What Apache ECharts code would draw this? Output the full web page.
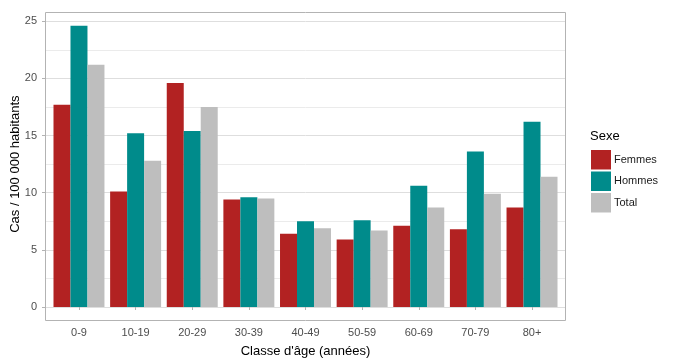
<!DOCTYPE html>
<html><head><meta charset="utf-8">
<script src="https://cdn.jsdelivr.net/npm/echarts@6/dist/echarts.min.js"></script>
<style>html,body{margin:0;padding:0;background:#fff}#c{width:673px;height:364px}</style>
</head><body><div id="c"></div>
<script>
const categories = ['0-9','10-19','20-29','30-39','40-49','50-59','60-69','70-79','80+'];
const femmes = [17.7, 10.1, 19.6, 9.4, 6.4, 5.9, 7.1, 6.8, 8.7];
const hommes = [24.6, 15.2, 15.4, 9.6, 7.5, 7.6, 10.6, 13.6, 16.2];
const total  = [21.2, 12.8, 17.5, 9.5, 6.9, 6.7, 8.7, 9.9, 11.4];
const seriesNames = ['Femmes','Hommes','Total'];
const colors = ['#B22222','#008B8B','#BEBEBE'];
const yTicks = [0,5,10,15,20,25];

const FONT = 'Liberation Sans, Arial, sans-serif';
const panelL = 45, panelR = 566, panelT = 12, panelB = 321;
const y0 = 307, y25 = 21.3;
const catW = (panelR - panelL) / 9.2;

const chart = echarts.init(document.getElementById('c'), null, {renderer:'canvas'});
chart.setOption({
  backgroundColor: '#fff',
  animation: false,
  textStyle: {fontFamily: FONT},
  title: {text: 'Sexe', left: 585, top: 125, textStyle: {fontFamily: FONT, fontSize: 13, fontWeight: 'normal', color: '#000'}},
  legend: {
    orient: 'vertical', left: 586, top: 145, itemWidth: 20, itemHeight: 19.5, itemGap: 2,
    icon: 'rect', data: seriesNames,
    textStyle: {fontFamily: FONT, fontSize: 11, color: '#1a1a1a', padding: [0,0,0,-2]}
  },
  grid: [
    {left: panelL, right: 673 - panelR, top: y25, bottom: 364 - y0, containLabel: false, outerBoundsMode: 'none'},
    {left: panelL + 0.1*catW, right: 673 - (panelR - 0.1*catW), top: y25, bottom: 364 - y0, containLabel: false, outerBoundsMode: 'none'}
  ],
  xAxis: [
    {type: 'category', gridIndex: 0, data: categories, show: false},
    {type: 'category', gridIndex: 1, data: categories, position: 'bottom', offset: 14,
     axisLine: {show: false},
     axisTick: {show: true, alignWithLabel: true, length: 3, lineStyle: {color: '#b3b3b3'}},
     axisLabel: {fontFamily: FONT, fontSize: 11, color: '#4d4d4d', margin: 6},
     name: "Classe d'âge (années)", nameLocation: 'middle', nameGap: 24, nameMoveOverlap: false,
     nameTextStyle: {fontFamily: FONT, fontSize: 13, color: '#000'}}
  ],
  yAxis: [
    {type: 'value', gridIndex: 0, min: 0, max: 25, interval: 5, position: 'left', offset: 0,
     axisLine: {show: true, onZero: false, lineStyle: {color: 'rgba(0,0,0,0)'}},
     axisTick: {show: true, length: 3, inside: false, lineStyle: {color: '#b3b3b3'}},
     axisLabel: {show: true, fontFamily: FONT, fontSize: 11, color: '#4d4d4d', margin: 8, align: 'right'},
     splitLine: {show: true, lineStyle: {color: '#dedede', width: 1}},
     minorTick: {show: false, splitNumber: 2},
     minorSplitLine: {show: true, lineStyle: {color: '#ebebeb', width: 1}},
     name: 'Cas / 100 000 habitants', nameLocation: 'middle', nameGap: 23, nameRotate: 90, nameMoveOverlap: false,
     nameTextStyle: {fontFamily: FONT, fontSize: 13, color: '#000'}},
    {type: 'value', gridIndex: 1, min: 0, max: 25, interval: 5, show: false, splitLine: {show: false}}
  ],
  series: [femmes, hommes, total].map((d, i) => ({
    type: 'bar', name: seriesNames[i], xAxisIndex: 1, yAxisIndex: 1, data: d,
    itemStyle: {color: colors[i]}, barGap: '0%', barCategoryGap: '10%'
  })),
  graphic: [
    {type: 'rect', shape: {x: panelL + 0.5, y: panelT + 0.5, width: panelR - panelL - 1, height: panelB - panelT - 1},
     style: {fill: 'none', stroke: '#b3b3b3', lineWidth: 1}, z: 100}
  ]
});
</script></body></html>
